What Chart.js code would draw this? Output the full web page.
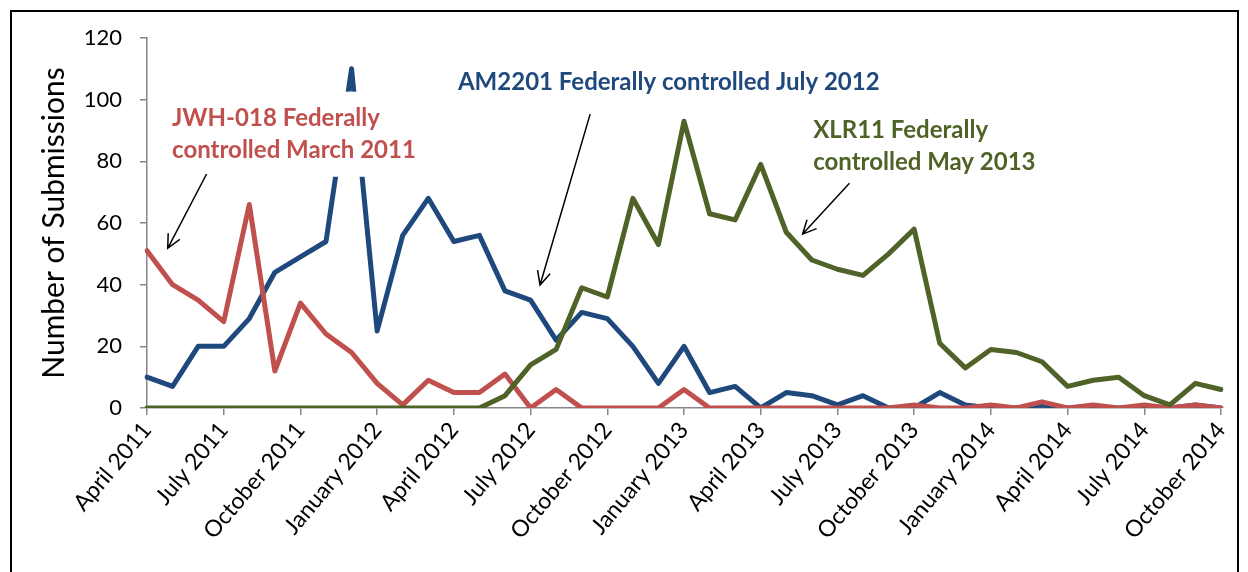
<!DOCTYPE html>
<html>

<head>
  <title>Submissions</title>
  <script src="https://cdn.jsdelivr.net/npm/chart.js@4.4.0/dist/chart.umd.min.js"></script>
  <style>
    body { margin: 0; background: #fff; }
  </style>
</head>

<body>
  <canvas id="line-chart" width="1248" height="572"></canvas>
  <script>
    var months = [
      'April 2011', 'May 2011', 'June 2011', 'July 2011', 'August 2011', 'September 2011',
      'October 2011', 'November 2011', 'December 2011', 'January 2012', 'February 2012', 'March 2012',
      'April 2012', 'May 2012', 'June 2012', 'July 2012', 'August 2012', 'September 2012',
      'October 2012', 'November 2012', 'December 2012', 'January 2013', 'February 2013', 'March 2013',
      'April 2013', 'May 2013', 'June 2013', 'July 2013', 'August 2013', 'September 2013',
      'October 2013', 'November 2013', 'December 2013', 'January 2014', 'February 2014', 'March 2014',
      'April 2014', 'May 2014', 'June 2014', 'July 2014', 'August 2014', 'September 2014',
      'October 2014'
    ];

    var am2201 = [10, 7, 20, 20, 29, 44, 49, 54, 110, 25,
      56, 68, 54, 56, 38, 35, 22, 31, 29, 20,
      8, 20, 5, 7, 0, 5, 4, 1, 4, 0,
      0, 5, 1, 0, 0, 1, 0, 0, 0, 0,
      0, 1, 0];

    var jwh018 = [51, 40, 35, 28, 66, 12, 34, 24, 18, 8,
      1, 9, 5, 5, 11, 0, 6, 0, 0, 0,
      0, 6, 0, 0, 0, 0, 0, 0, 0, 0,
      1, 0, 0, 1, 0, 2, 0, 1, 0, 1,
      0, 1, 0];

    var xlr11 = [0, 0, 0, 0, 0, 0, 0, 0, 0, 0,
      0, 0, 0, 0, 4, 14, 19, 39, 36, 68,
      53, 93, 63, 61, 79, 57, 48, 45, 43, 50,
      58, 21, 13, 19, 18, 15, 7, 9, 10, 4,
      1, 8, 6];

    var yMin = 0, yMax = 120, yStep = 20;

    // text boxes and arrows, placed in axis units (month index, submissions)
    var notes = [
      {
        lines: ['JWH-018 Federally', 'controlled March 2011'], color: '#C0504D',
        x: 0.98, y: [91.3, 81.0], box: [0.7, 102.6, 11, 75],
        arrow: [[2.33, 75.9], [0.81, 51.8]]
      },
      {
        lines: ['AM2201 Federally controlled July 2012'], color: '#1F497D',
        x: 12.16, y: [103.2], box: null,
        arrow: [[17.33, 95.3], [15.37, 39.9]]
      },
      {
        lines: ['XLR11 Federally', 'controlled May 2013'], color: '#4F6228',
        x: 26.05, y: [87.5, 77.2], box: null,
        arrow: [[27.47, 72.9], [25.64, 56.4]]
      }
    ];

    var axisGrey = '#868686';

    var notesPlugin = {
      id: 'notes',
      beforeDraw: function (chart) {
        var ctx = chart.ctx;
        ctx.save();
        ctx.fillStyle = '#fff';
        ctx.fillRect(0, 0, chart.width, chart.height);
        ctx.restore();
      },
      afterDatasetsDraw: function (chart) {
        var ctx = chart.ctx;
        var xs = chart.scales.x, ys = chart.scales.y;
        ctx.save();
        notes.forEach(function (n) {
          if (n.box) {
            var bx0 = xs.getPixelForValue(n.box[0]), by0 = ys.getPixelForValue(n.box[1]);
            var bx1 = xs.getPixelForValue(n.box[2]), by1 = ys.getPixelForValue(n.box[3]);
            ctx.fillStyle = '#fff';
            ctx.fillRect(bx0, by0, bx1 - bx0, by1 - by0);
          }
          ctx.fillStyle = n.color;
          ctx.font = 'bold 24px Lato';
          ctx.textBaseline = 'alphabetic';
          ctx.textAlign = 'left';
          n.lines.forEach(function (t, k) {
            ctx.fillText(t, xs.getPixelForValue(n.x), ys.getPixelForValue(n.y[k]));
          });

          var x0 = xs.getPixelForValue(n.arrow[0][0]), y0 = ys.getPixelForValue(n.arrow[0][1]);
          var x1 = xs.getPixelForValue(n.arrow[1][0]), y1 = ys.getPixelForValue(n.arrow[1][1]);
          var a = Math.atan2(y1 - y0, x1 - x0);
          ctx.strokeStyle = '#000';
          ctx.lineWidth = 1.5;
          ctx.beginPath();
          ctx.moveTo(x0, y0);
          ctx.lineTo(x1, y1);
          ctx.moveTo(x1 - 15 * Math.cos(a - 0.45), y1 - 15 * Math.sin(a - 0.45));
          ctx.lineTo(x1, y1);
          ctx.lineTo(x1 - 15 * Math.cos(a + 0.45), y1 - 15 * Math.sin(a + 0.45));
          ctx.stroke();
        });
        ctx.restore();
      },
      afterDraw: function (chart) {
        var ctx = chart.ctx;
        ctx.save();
        ctx.strokeStyle = '#000';
        ctx.lineWidth = 2;
        ctx.strokeRect(11, 11, 1227, 600);
        ctx.restore();
      }
    };

    var chart = new Chart(document.getElementById('line-chart'), {
      type: 'line',
      data: {
        labels: months,
        datasets: [
          { label: 'AM2201', data: am2201, borderColor: '#1F497D', order: 2 },
          { label: 'JWH-018', data: jwh018, borderColor: '#C0504D', order: 1 },
          { label: 'XLR11', data: xlr11, borderColor: '#4F6228', order: 0 }
        ]
      },
      options: {
        responsive: false,
        animation: false,
        layout: { padding: { top: 38, right: 27, left: 0, bottom: 0 } },
        elements: {
          line: { borderWidth: 5, tension: 0, borderJoinStyle: 'round', borderCapStyle: 'round', fill: false },
          point: { radius: 0, hoverRadius: 0 }
        },
        plugins: {
          legend: { display: false },
          tooltip: { enabled: false }
        },
        scales: {
          x: {
            offset: false,
            grid: {
              offset: false,
              drawOnChartArea: false,
              tickLength: 7,
              lineWidth: 1.5,
              color: function (c) { return c.index % 3 === 0 ? axisGrey : 'rgba(0,0,0,0)'; }
            },
            border: { color: axisGrey, width: 1.5 },
            ticks: {
              autoSkip: false,
              minRotation: 50,
              maxRotation: 50,
              padding: 2,
              color: '#000',
              font: { family: 'Lato', size: 23 },
              callback: function (v, i) { return i % 3 === 0 ? months[i] : ''; }
            },
            afterFit: function (s) { s.height = 164; }
          },
          y: {
            min: yMin,
            max: yMax,
            grid: { drawOnChartArea: false, tickLength: 7, lineWidth: 1.5, color: axisGrey },
            border: { color: axisGrey, width: 1.5 },
            ticks: {
              stepSize: yStep,
              padding: 18,
              color: '#000',
              font: { family: 'Lato', size: 22 }
            },
            title: {
              display: true,
              text: 'Number of Submissions',
              color: '#000',
              font: { family: 'Lato', size: 30 },
              padding: { top: 36, bottom: 0 }
            },
            afterFit: function (s) { s.width = 147; }
          }
        }
      },
      plugins: [notesPlugin]
    });
  </script>
</body>

</html>
